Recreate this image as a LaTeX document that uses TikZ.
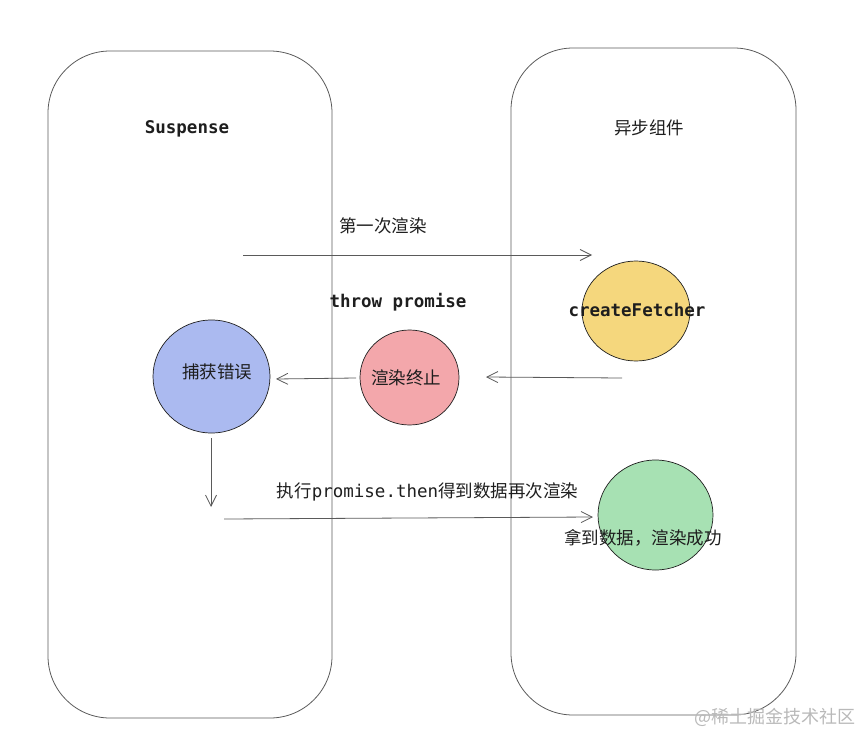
\documentclass[tikz,border=0pt]{standalone}
\usepackage{fontspec}
\setmainfont{Noto Sans CJK SC}
\setmonofont{DejaVu Sans Mono}
\usetikzlibrary{arrows.meta,shapes.geometric}
\definecolor{ink}{HTML}{1e1e1e}
\definecolor{ink2}{HTML}{5a5a5a}
\definecolor{blu}{HTML}{abbaf0}
\definecolor{rd}{HTML}{f3a7ab}
\definecolor{yel}{HTML}{f5d77d}
\definecolor{grn}{HTML}{a7e1b3}
\definecolor{wm}{HTML}{b9b9b9}
\tikzset{
  panel/.style={draw=ink2,rounded corners=62pt,line width=0.8pt,minimum width=284pt,minimum height=667pt,inner sep=0pt},
  ball/.style={ellipse,draw=ink,line width=0.7pt,inner sep=0pt},
  lab/.style={font=\fontsize{17.5}{20}\selectfont,text=ink,inner sep=0pt},
  code/.style={lab,font=\fontsize{17.5}{20}\selectfont\ttfamily\bfseries},
  arr/.style={-{Straight Barb[length=11pt,width=11pt]},line width=0.8pt,draw=ink2},
}
\begin{document}
\begin{tikzpicture}[x=1pt,y=-1pt]
\useasboundingbox (0,0) rectangle (861,733);
% the two lanes
\node[panel] (susp) at (190,384.5) {};
\node[panel,minimum width=285pt] (async) at (653.5,381.5) {};
\node[code] (suspt) at (187,129) {Suspense};
\node[lab] (asynct) at (649,128) {异步组件};
% states
\node[ball,fill=blu,minimum width=117pt,minimum height=113pt] (catch) at (211.5,376.5) {};
\node[ball,fill=rd,minimum width=99pt,minimum height=95pt] (stop) at (409.5,377.5) {};
\node[ball,fill=yel,minimum width=108pt,minimum height=100pt] (fetch) at (636,311) {};
\node[ball,fill=grn,minimum width=115pt,minimum height=110pt] (done) at (655.5,515) {};
\node[lab] (catcht) at (217,372) {捕获错误};
\node[lab] (stopt) at (406,378) {渲染终止};
\node[code] (fetcht) at (637,310) {createFetcher};
\node[lab] (donet) at (643,538) {拿到数据，渲染成功};
% arrow ends
\coordinate (r1s) at (243,255); \coordinate (r1e) at (592,255);
\coordinate (ths) at (622,378); \coordinate (the) at (486,377);
\coordinate (ths2) at (356,378); \coordinate (the2) at (276,379);
\coordinate (cds) at (211,438); \coordinate (cde) at (211,507);
\coordinate (r2s) at (224,519); \coordinate (r2e) at (593,517);
\draw[arr] (r1s) -- (r1e);
\draw[arr] (ths) -- (the);
\draw[arr] (ths2) -- (the2);
\draw[arr] (cds) -- (cde);
\draw[arr] (r2s) -- (r2e);
\node[lab] (r1t) at (383,226) {第一次渲染};
\node[code] (tht) at (398,302) {throw promise};
\node[lab] (r2t) at (427.5,492) {执行{\ttfamily promise.then}得到数据再次渲染};
\node[lab,text=wm,font=\fontsize{18}{20}\selectfont] (mark) at (775,717) {@稀土掘金技术社区};
\end{tikzpicture}
\end{document}
